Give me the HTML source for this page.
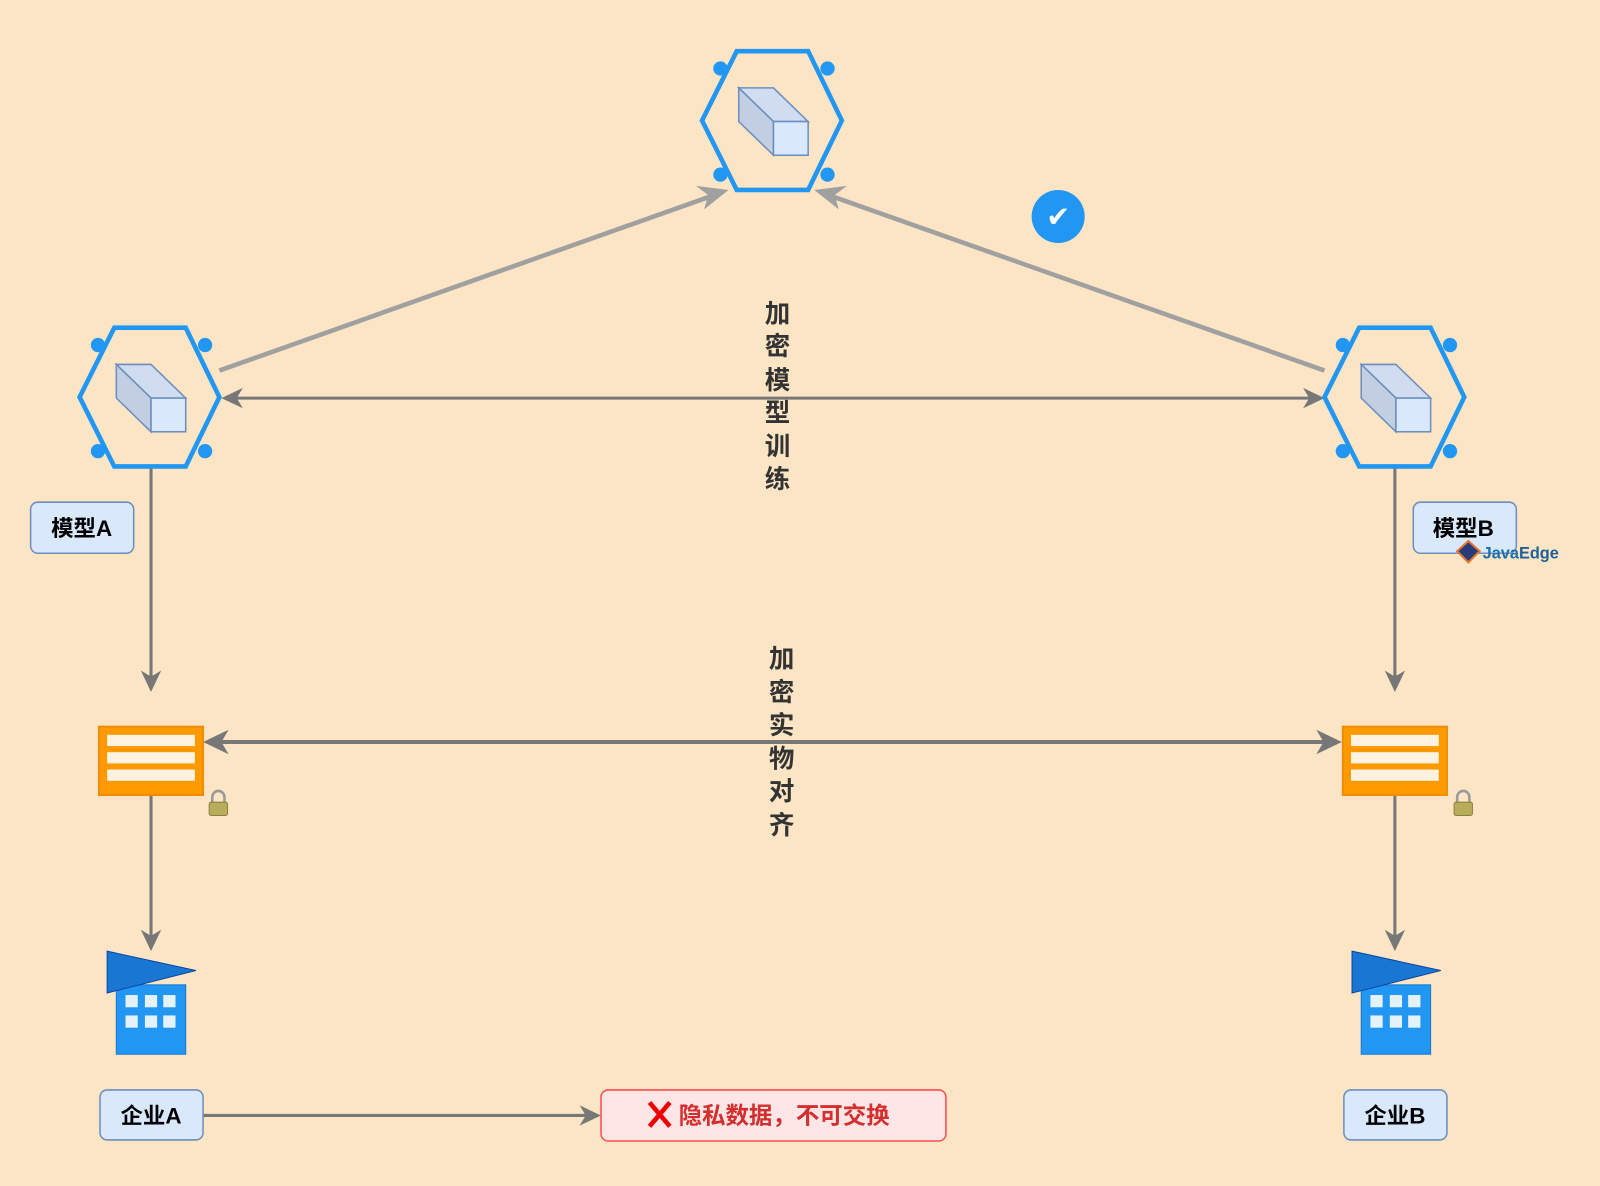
<!DOCTYPE html>
<html><head><meta charset="utf-8"><style>
html,body{margin:0;padding:0;background:#fce5c5;}
svg{display:block;}
text{font-family:"Liberation Sans","Noto Sans CJK SC",sans-serif;}
</style></head><body>
<svg width="1600" height="1186" viewBox="0 0 1568 1162" xmlns="http://www.w3.org/2000/svg">
<defs>
<g id="hex">
<polygon points="-69,0 -35,-68 35,-68 68,0 35,68 -35,68" fill="none" stroke="#2196f3" stroke-width="4.5"/>
<circle cx="-51" cy="-51" r="7" fill="#2196f3"/><circle cx="54" cy="-51" r="7" fill="#2196f3"/>
<circle cx="-51" cy="53" r="7" fill="#2196f3"/><circle cx="54" cy="53" r="7" fill="#2196f3"/>
<polygon points="-33,-32 1,-32 35,1 1,1" fill="#d0dcf0" stroke="#6c8ebf" stroke-width="1.5"/>
<polygon points="-33,-32 1,1 1,34 -33,1" fill="#c2cfe2" stroke="#6c8ebf" stroke-width="1.5"/>
<rect x="1" y="1" width="34" height="33" fill="#dae8fc" stroke="#6c8ebf" stroke-width="1.5"/>
</g>
<g id="srv">
<rect x="0" y="0" width="102" height="67" fill="#ff9900" stroke="#f08c00" stroke-width="2"/>
<rect x="8" y="8" width="86" height="11" fill="#fff3e0"/>
<rect x="8" y="25" width="86" height="11" fill="#fff3e0"/>
<rect x="8" y="42" width="86" height="11" fill="#fff3e0"/>
</g>
<g id="bld">
<rect x="9" y="33" width="68" height="68" fill="#2196f3" stroke="#1976d2" stroke-width="1"/>
<polygon points="0,0 87,19 0,41" fill="#1976d2" stroke="#0d47a1" stroke-width="1"/>
<g fill="#e3f2fd"><rect x="18" y="43" width="12" height="12"/><rect x="37" y="43" width="12" height="12"/><rect x="55" y="43" width="12" height="12"/>
<rect x="18" y="63" width="12" height="12"/><rect x="37" y="63" width="12" height="12"/><rect x="55" y="63" width="12" height="12"/></g>
</g>
<g id="lock">
<path d="M-6,-2 v-5 a6,6 0 0 1 12,0 v5" fill="none" stroke="#9a9a9a" stroke-width="2.5"/>
<rect x="-9" y="-2" width="18" height="13" rx="2" fill="#b9ad5c" stroke="#8a8040"/>
</g>
</defs>

<g stroke="#a0a0a0" stroke-width="4.5" fill="#a0a0a0">
<line x1="215" y1="363" x2="700" y2="191"/>
<polygon points="714,186 690,205 694,191 682,182" stroke="none"/>
<line x1="1298" y1="363" x2="812" y2="191"/>
<polygon points="798,186 822,205 818,191 830,182" stroke="none"/>
</g>

<g stroke="#777" fill="#777">
<line x1="228" y1="390" x2="1287" y2="390" stroke-width="3"/>
<polygon points="217,390 238,380 232,390 238,400" stroke="none"/>
<polygon points="1298,390 1277,380 1283,390 1277,400" stroke="none"/>
<line x1="212" y1="727" x2="1302" y2="727" stroke-width="4"/>
<polygon points="199,727 224,715 217,727 224,739" stroke="none"/>
<polygon points="1315,727 1290,715 1297,727 1290,739" stroke="none"/>
<line x1="148" y1="457" x2="148" y2="668" stroke-width="3"/>
<polygon points="148,678 138,657 148,663 158,657" stroke="none"/>
<line x1="1367" y1="457" x2="1367" y2="668" stroke-width="3"/>
<polygon points="1367,678 1357,657 1367,663 1377,657" stroke="none"/>
<line x1="148" y1="779" x2="148" y2="922" stroke-width="3"/>
<polygon points="148,932 138,911 148,917 158,911" stroke="none"/>
<line x1="1367" y1="779" x2="1367" y2="922" stroke-width="3"/>
<polygon points="1367,932 1357,911 1367,917 1377,911" stroke="none"/>
<line x1="199" y1="1093" x2="578" y2="1093" stroke-width="3"/>
<polygon points="589,1093 568,1083 574,1093 568,1103" stroke="none"/>
</g>

<use href="#hex" x="757" y="118"/>
<use href="#hex" x="147" y="389"/>
<use href="#hex" x="1367" y="389"/>

<circle cx="1037" cy="212" r="26" fill="#2196f3"/>
<text x="1037" y="222" font-size="28" fill="#fff" text-anchor="middle" font-family="DejaVu Sans">✔</text>

<g font-size="25" font-weight="bold" fill="#333" text-anchor="middle">
<text x="762" y="316">加</text><text x="762" y="348">密</text><text x="762" y="381">模</text>
<text x="762" y="413">型</text><text x="762" y="446">训</text><text x="762" y="478">练</text>
<text x="766" y="654">加</text><text x="766" y="687">密</text><text x="766" y="719">实</text>
<text x="766" y="752">物</text><text x="766" y="784">对</text><text x="766" y="817">齐</text>
</g>

<g fill="#dae8fc" stroke="#6c8ebf" stroke-width="1.5">
<rect x="30" y="492" width="101" height="50" rx="7"/>
<rect x="1385" y="492" width="101" height="50" rx="7"/>
<rect x="98" y="1068" width="101" height="49" rx="7"/>
<rect x="1317" y="1068" width="101" height="49" rx="7"/>
</g>
<g font-size="22" font-weight="bold" fill="#000" text-anchor="middle">
<text x="80" y="525">模型A</text>
<text x="1434" y="525">模型B</text>
<text x="148" y="1101">企业A</text>
<text x="1367" y="1101">企业B</text>
</g>

<g>
<polygon points="1439,530 1450,540 1439,551 1428,540" fill="#2a3b7a" stroke="#e6762a" stroke-width="2"/>
<text x="1453" y="547" font-size="16" font-weight="bold" fill="#1b6fae">Java<tspan fill="#1f5f99">Edge</tspan></text>
</g>

<use href="#srv" x="97" y="712"/>
<use href="#srv" x="1316" y="712"/>
<use href="#lock" x="214" y="788"/>
<use href="#lock" x="1434" y="788"/>

<use href="#bld" x="105" y="932"/>
<use href="#bld" x="1325" y="932"/>

<rect x="589" y="1068" width="338" height="50" rx="7" fill="#ffe6e6" stroke="#ff4d4d" stroke-width="1.5"/>
<g stroke="#ee0000" stroke-width="4.5" stroke-linecap="square">
<line x1="638" y1="1082" x2="655" y2="1102"/><line x1="655" y1="1082" x2="638" y2="1102"/>
</g>
<text x="665" y="1101" font-size="23" font-weight="bold" fill="#d32f2f">隐私数据，不可交换</text>
</svg>
</body></html>
